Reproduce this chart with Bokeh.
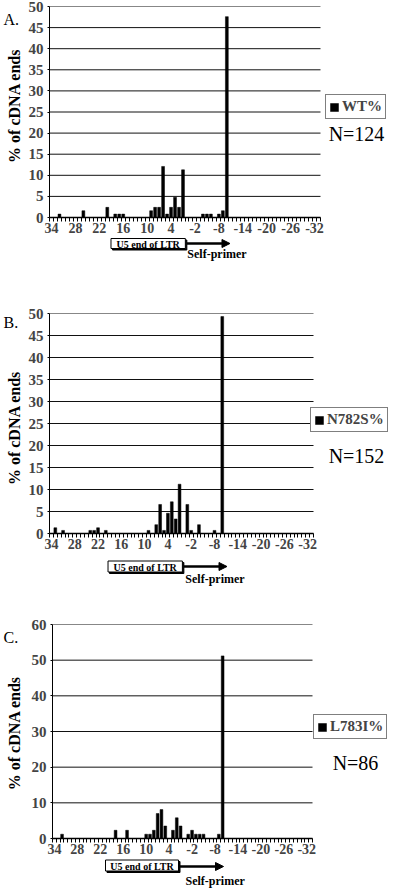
import math
from bokeh.plotting import figure
from bokeh.models import Range1d, FixedTicker, Arrow, NormalHead, Legend, LegendItem
from bokeh.core.properties import value
from bokeh.layouts import column, row
from bokeh.embed import file_html
from bokeh.resources import INLINE

# categories: nucleotide positions from U5 end of LTR (positive) into the self-primer (negative)
categories = list(range(34, -34, -1))
x_tick_labels = ["34", "28", "22", "16", "10", "4", "-2", "-8", "-14", "-20", "-26", "-32"]

wt_pos = [32, 26, 20, 18, 17, 16, 9, 8, 7, 6, 5, 4, 3, 2, 1, -4, -5, -6, -8, -9, -10]
wt_pct = [0.8, 1.6, 2.4, 0.8, 0.8, 0.8, 1.6, 2.4, 2.4, 12.1, 0.8, 2.4, 4.8, 2.4, 11.3,
          0.8, 0.8, 0.8, 0.8, 1.6, 47.6]

n782s_pos = [33, 31, 24, 23, 22, 20, 9, 7, 6, 5, 4, 3, 2, 1, -1, -2, -4, -8, -10]
n782s_pct = [1.3, 0.7, 0.7, 0.7, 1.3, 0.7, 0.7, 2.0, 6.6, 0.7, 4.6, 7.2, 3.3, 11.2,
             6.6, 0.7, 2.0, 0.7, 49.3]

l783i_pos = [32, 18, 15, 10, 9, 8, 7, 6, 5, 3, 2, 1, -1, -2, -3, -4, -5, -9, -10]
l783i_pct = [1.2, 2.3, 2.3, 1.2, 1.2, 2.3, 7.0, 8.1, 3.5, 2.3, 5.8, 3.5, 1.2, 2.3,
             1.2, 1.2, 1.2, 1.2, 51.2]

SERIF = "Liberation Serif"
FIG_W = 400
S = 22  # left strip holding the panel letter and the y-axis title


def blank(width, height, xr, yr, **kw):
    f = figure(width=width, height=height, output_backend="svg", toolbar_location=None,
               x_range=xr, y_range=yr, min_border_left=0, min_border_right=0,
               min_border_top=0, min_border_bottom=0, x_axis_type=None, y_axis_type=None, **kw)
    f.outline_line_color = None
    f.xgrid.visible = False
    f.ygrid.visible = False
    return f


def panel(letter, letter_y, pos, pct, name, n_text, ymax, ystep, T, Hf, L, W, leg, n_xy, Hb, ann):
    NC = len(categories)
    Bm = 20
    Hm = T + Hf + Bm
    Lm = L - S
    xmax = NC * (FIG_W - L) / W
    p = figure(width=FIG_W - S, height=Hm, output_backend="svg", toolbar_location=None,
               x_range=Range1d(0, xmax), y_range=Range1d(0, ymax),
               min_border_left=Lm, min_border_right=0, min_border_top=T, min_border_bottom=Bm)
    p.outline_line_color = None
    p.xgrid.visible = False
    p.ygrid.visible = False

    def dx(px):
        return (px - L) * NC / W

    def dy(py):
        return ymax * (T + Hf - py) / Hf

    yt = list(range(0, ymax + 1, ystep))
    p.segment(x0=[0] * len(yt), x1=[NC] * len(yt), y0=yt, y1=yt, line_color="#111111", line_width=1)

    xs = [categories.index(v) + 0.5 for v in pos]
    r = p.vbar(x=xs, top=pct, bottom=0, width=0.72, fill_color="black", line_color="black",
               line_width=0.5)

    # y axis
    ya = p.yaxis[0]
    ya.ticker = FixedTicker(ticks=yt, minor_ticks=[])
    ya.major_label_text_font = SERIF
    ya.major_label_text_font_style = "bold"
    ya.major_label_text_font_size = "15px"
    ya.major_label_standoff = 4
    ya.major_tick_out = 2
    ya.major_tick_in = 0
    ya.axis_line_color = "black"
    ya.major_tick_line_color = "black"

    # x axis: labels every 6th category, tick marks between all categories
    xa = p.xaxis[0]
    xa.bounds = (0, NC)
    major = [i + 0.5 for i in range(0, NC, 6)]
    xa.ticker = FixedTicker(ticks=major, minor_ticks=list(range(0, NC + 1)))
    xa.major_label_overrides = {m: t for m, t in zip(major, x_tick_labels)}
    xa.major_label_text_font = SERIF
    xa.major_label_text_font_style = "bold"
    xa.major_label_text_font_size = "14px"
    xa.major_label_standoff = 1
    xa.major_tick_out = 4
    xa.major_tick_in = 0
    xa.major_tick_line_alpha = 0
    xa.minor_tick_out = 4
    xa.minor_tick_in = 0
    xa.minor_tick_line_color = "black"
    xa.axis_line_color = "black"
    xa.axis_line_width = 1.5

    # legend (inside the extended frame, right of the categories)
    legend = Legend(items=[LegendItem(label=name, renderers=[r])],
                    location=(leg[0] - L, T + Hf - leg[1]),
                    orientation="vertical", border_line_color="black", border_line_width=1.5,
                    background_fill_color="white", background_fill_alpha=1,
                    label_text_font=SERIF, label_text_font_style="bold", label_text_font_size="15px",
                    glyph_width=10, glyph_height=10, label_height=13, label_standoff=3,
                    padding=3, margin=0, spacing=0)
    p.add_layout(legend)

    p.text(x=[dx(n_xy[0])], y=[dy(n_xy[1])], text=[n_text], text_font=value(SERIF),
           text_font_size="20px", text_align="center", text_baseline="middle", text_color="black")

    # left strip: panel letter and y-axis title
    s = blank(S, Hm, Range1d(0, S), Range1d(0, Hm))
    s.text(x=[3], y=[Hm - letter_y], text=[letter], text_font=value(SERIF), text_font_size="16px",
           text_align="left", text_baseline="top", text_color="black")
    s.text(x=[S - 8.5], y=[Hm - (T + Hf / 2)], text=["% of cDNA ends"], angle=math.pi / 2,
           text_font=value(SERIF), text_font_style="bold", text_font_size="16px",
           text_align="center", text_baseline="middle", text_color="black")

    # strip below: LTR box with shadow, arrow, self-primer label (page-pixel coordinates)
    q = blank(FIG_W, Hb, Range1d(L, FIG_W), Range1d(Hb, 0))
    q.min_border_left = L
    bx0, bx1, bcy, bh, ay, aend, sp_x, sp_y = ann
    bcx = (bx0 + bx1) / 2
    q.rect(x=[bcx + 1.5], y=[bcy + 1.5], width=bx1 - bx0, height=bh, fill_color="black",
           line_color="black")
    q.rect(x=[bcx], y=[bcy], width=bx1 - bx0, height=bh, fill_color="white",
           line_color="black", line_width=1)
    q.text(x=[bcx], y=[bcy + 0.5], text=["U5 end of LTR"], text_font=value(SERIF),
           text_font_style="bold", text_font_size="10px", text_align="center",
           text_baseline="middle", text_color="black")
    q.add_layout(Arrow(end=NormalHead(size=8, fill_color="black", line_color="black"),
                       x_start=bx1 + 1.5, y_start=ay, x_end=aend, y_end=ay,
                       line_width=2.5, line_color="black"))
    q.text(x=[sp_x], y=[sp_y], text=["Self-primer"], text_font=value(SERIF),
           text_font_style="bold", text_font_size="12px", text_align="left",
           text_baseline="middle", text_color="black")
    return [row(s, p, spacing=0), q]


A = panel("A.", 5, wt_pos, wt_pct, "WT%", "N=124", 50, 5, T=6, Hf=211, L=49, W=271,
          leg=(325, 119), n_xy=(356, 133), Hb=45,
          ann=(108, 183, 6, 10, 6, 228, 185, 16))
B = panel("B.", 1, n782s_pos, n782s_pct, "N782S%", "N=152", 50, 5, T=31, Hf=220, L=49, W=264,
          leg=(310, 150), n_xy=(356, 173), Hb=47,
          ann=(105, 180, 13, 11, 13, 225, 183, 25))
C = panel("C.", 5, l783i_pos, l783i_pct, "L783I%", "N=86", 60, 10, T=24, Hf=214, L=52, W=260,
          leg=(313, 139), n_xy=(355, 162), Hb=30,
          ann=(105, 178, 7, 11, 8, 223, 185, 22))

layout = column(*A, *B, *C, spacing=0)
open("out.html", "w").write(file_html(layout, INLINE))
